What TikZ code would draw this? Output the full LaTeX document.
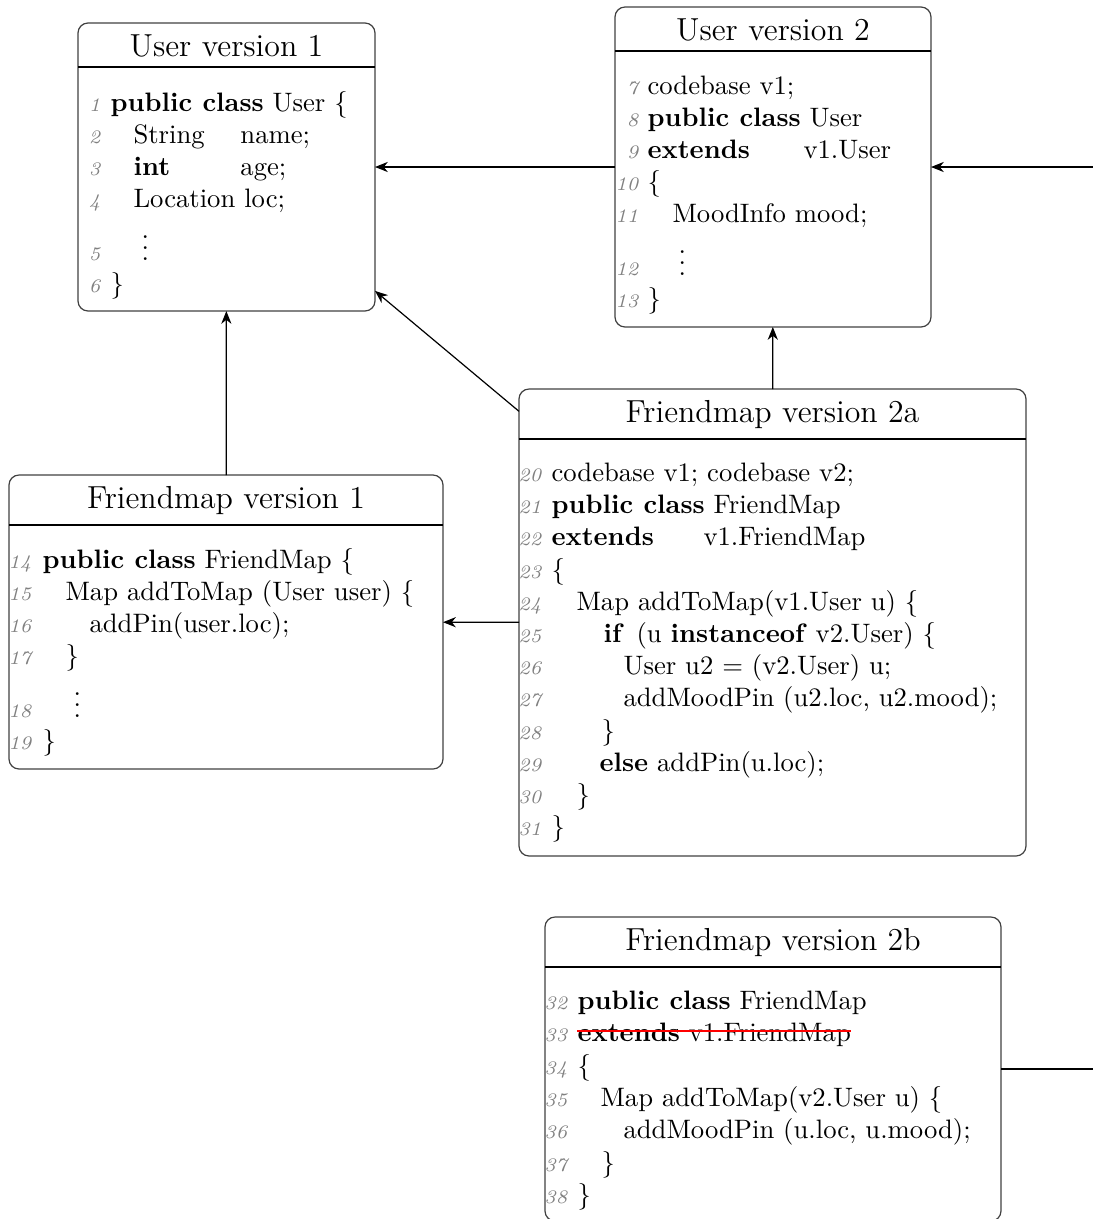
\documentclass[tikz,border=0pt]{standalone}
\usepackage{fontspec}
\usetikzlibrary{arrows.meta}
\tikzset{
  box/.style={draw=black!75, rounded corners=3.75pt, inner sep=0pt, outer sep=0pt, line width=0.45pt},
  sepline/.style={draw=black, line width=0.45pt},
  titlesty/.style={inner sep=0pt, font=\fontsize{11.95}{14.3}\selectfont},
  codesty/.style={inner sep=0pt, font=\fontsize{10}{12}\selectfont},
  numsty/.style={inner sep=0pt, text=gray, font=\fontsize{7.2}{8.6}\selectfont\itshape},
  arr/.style={draw=black, line width=0.45pt, -{Stealth[length=4.8pt,width=3.8pt,inset=1.5pt]}},
  plainline/.style={draw=black, line width=0.45pt},
  strike/.style={draw=red, line width=0.8pt},
}
\newcommand\umlbox[7]{%
  \node[box, minimum width={(#4-#2)*0.375pt}, minimum height={(#5-#3)*0.375pt}] (#1) at ({(#2+#4)/2},{(#3+#5)/2}) {};
  \draw[sepline] (#2,#6) -- (#4,#6);
  \node[titlesty, anchor=base] (#1ttl) at ({(#2+#4)/2},{#3+33}) {#7};}
\newcommand\codeln[6]{%
  \node[numsty, anchor=base east] (#1n) at (#2,{#3+2}) {#4};
  \node[codesty, anchor=base west] (#1t) at (#5,{#3+2}) {#6};}
\begin{document}
\begin{tikzpicture}[x=0.375pt,y=-0.375pt]
\useasboundingbox (0,0) rectangle (1093,1219);
\clip (0,0) rectangle (1093,1219);

% boxes
\umlbox{uv1}{78}{23}{375}{311}{67}{User version 1}
\umlbox{uv2}{615}{7}{931}{327}{51}{User version 2}
\umlbox{fv1}{9}{475}{443}{769}{525}{Friendmap version 1}
\umlbox{fa}{519}{389}{1026}{856}{439}{Friendmap version 2a}
\umlbox{fb}{545}{917}{1001}{1221}{967}{Friendmap version 2b}

% User version 1
\codeln{a1}{101}{109}{1}{110}{\textbf{public class} User \{}
\codeln{a2}{101}{141}{2}{133}{\makebox[40.1pt][l]{String}name;}
\codeln{a3}{101}{173}{3}{133}{\makebox[40.1pt][l]{\textbf{int}}age;}
\codeln{a4}{101}{205}{4}{133}{Location loc;}
\codeln{a5}{101}{258}{5}{141}{$\vdots$}
\codeln{a6}{101}{290}{6}{110}{\}}

% User version 2
\codeln{b7}{639}{92}{7}{647}{codebase v1;}
\codeln{b8}{639}{124}{8}{647}{\textbf{public class} User}
\codeln{b9}{639}{156}{9}{647}{\makebox[58.5pt][l]{\textbf{extends}}v1.User}
\codeln{b10}{639}{188}{10}{647}{\{}
\codeln{b11}{639}{220}{11}{672}{MoodInfo mood;}
\codeln{b12}{639}{273}{12}{678}{$\vdots$}
\codeln{b13}{639}{305}{13}{647}{\}}

% Friendmap version 1
\codeln{c14}{32}{566}{14}{42}{\textbf{public class} FriendMap \{}
\codeln{c15}{32}{598}{15}{65}{Map addToMap (User user) \{}
\codeln{c16}{32}{630}{16}{89}{addPin(user.loc);}
\codeln{c17}{32}{662}{17}{65}{\}}
\codeln{c18}{32}{715}{18}{73}{$\vdots$}
\codeln{c19}{32}{747}{19}{42}{\}}

% Friendmap version 2a
\codeln{d20}{542}{479}{20}{551}{codebase v1; codebase v2;}
\codeln{d21}{542}{511}{21}{551}{\textbf{public class} FriendMap}
\codeln{d22}{542}{543}{22}{551}{\makebox[57pt][l]{\textbf{extends}}v1.FriendMap}
\codeln{d23}{542}{576}{23}{551}{\{}
\codeln{d24}{542}{608}{24}{576}{Map addToMap(v1.User u) \{}
\codeln{d25}{542}{640}{25}{603}{\makebox[12.4pt][l]{\textbf{if}}(u \textbf{instanceof} v2.User) \{}
\codeln{d26}{542}{672}{26}{623}{User u2 = (v2.User) u;}
\codeln{d27}{542}{704}{27}{623}{addMoodPin (u2.loc, u2.mood);}
\codeln{d28}{542}{737}{28}{601}{\}}
\codeln{d29}{542}{769}{29}{599}{\textbf{else} addPin(u.loc);}
\codeln{d30}{542}{801}{30}{576}{\}}
\codeln{d31}{542}{833}{31}{551}{\}}

% Friendmap version 2b
\codeln{e32}{568}{1007}{32}{577}{\textbf{public class} FriendMap}
\codeln{e33}{568}{1039}{33}{577}{\textbf{extends} v1.FriendMap}
\codeln{e34}{568}{1072}{34}{577}{\{}
\codeln{e35}{568}{1104}{35}{600}{Map addToMap(v2.User u) \{}
\codeln{e36}{568}{1136}{36}{623}{addMoodPin (u.loc, u.mood);}
\codeln{e37}{568}{1169}{37}{601}{\}}
\codeln{e38}{568}{1201}{38}{577}{\}}
\draw[strike] ([yshift=3.8pt]e33t.base west) -- ([yshift=3.8pt]e33t.base east);

% connectors
\coordinate (r1) at (1120,167);
\coordinate (r2) at (1120,1069);
\draw[arr] (uv2) -- (uv1);
\draw[arr] (r1) -- (uv2);
\draw[arr] (fa) -- (uv1);
\draw[arr] (fa) -- (uv2);
\draw[arr] (fv1) -- (uv1);
\draw[arr] (fa) -- (fv1);
\draw[plainline] (fb) -- (r2);
\end{tikzpicture}
\end{document}
